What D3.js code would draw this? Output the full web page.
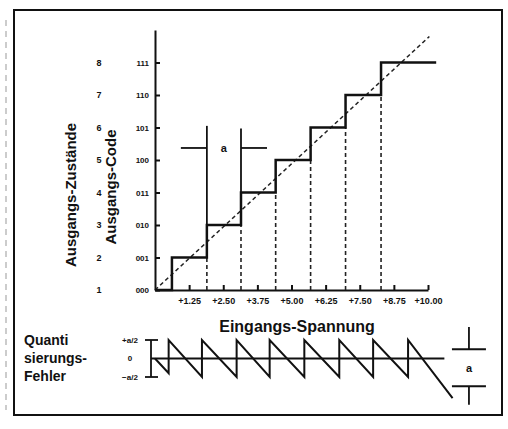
<!DOCTYPE html>
<meta charset="utf-8">
<style>
body { margin: 0; background: #fff; }
svg { display: block; font-family: "Liberation Sans", Arial, sans-serif; }
.axis path, .axis line { stroke: #111; stroke-width: 2px; }
.axis text { fill: #111; font-weight: bold; }
.step { fill: none; stroke: #111; stroke-width: 2.5px; }
.ideal { fill: none; stroke: #222; stroke-width: 1.6px; stroke-dasharray: 4,3; }
.drop { stroke: #222; stroke-width: 1.6px; stroke-dasharray: 4,3; }
.mark { stroke: #111; stroke-width: 1.8px; }
.err { fill: none; stroke: #111; stroke-width: 2px; }
.lbl { fill: #111; font-weight: bold; }
</style>
<svg width="508" height="429"></svg>
<script src="https://d3js.org/d3.v7.min.js"></script>
<script>
// output codes / state numbers, one per quantisation level
var codes = ["000", "001", "010", "011", "100", "101", "110", "111"];
var states = ["1", "2", "3", "4", "5", "6", "7", "8"];
var levels = [0, 1, 2, 3, 4, 5, 6, 7];

// input voltage ticks
var xTicks = [1.25, 2.5, 3.75, 5, 6.25, 7.5, 8.75, 10];
var xTickLabels = ["+1.25", "+2.50", "+3.75", "+5.00", "+6.25", "+7.50", "+8.75", "+10.00"];

// where each code level starts (V); last value = end of the top step
var stepEdges = [0, 0.62, 1.9, 3.15, 4.42, 5.7, 6.98, 8.28, 10.3];

// ideal transfer line (dashed)
var idealX = [0, 10.05];
var idealY = [0, 7.8];

// quantisation error curve, in units of a
var errX = [0, 0.5, 0.5, 1.72, 1.72, 2.99, 2.99, 4.2, 4.2, 5.47, 5.47, 6.75, 6.75, 7.99, 7.99, 9.27, 9.27, 10.9];
var errY = [0, -0.4, 0.5, -0.5, 0.5, -0.5, 0.5, -0.5, 0.5, -0.5, 0.5, -0.5, 0.5, -0.5, 0.5, -0.5, 0.5, -1.07];
var errLabels = ["+a/2", "0", "\u2212a/2"];
var errTicks = [0.5, 0, -0.5];

var svg = d3.select("svg");

var x = d3.scaleLinear().domain([0, 10]).range([155, 428]),
    y = d3.scaleLinear().domain([0, 8]).range([290, 30]),
    e = d3.scaleLinear().domain([-0.5, 0.5]).range([377, 340]);

// frame round the whole figure
svg.append("rect")
    .attr("x", 14).attr("y", 10).attr("width", 488).attr("height", 405)
    .attr("fill", "none").attr("stroke", "#111").attr("stroke-width", 2);
svg.append("line")
    .attr("x1", 6).attr("x2", 6).attr("y1", 20).attr("y2", 410)
    .attr("stroke", "#999").attr("stroke-width", 1).attr("stroke-dasharray", "6,5");

// axes
svg.append("g")
    .attr("class", "axis axis--x")
    .attr("transform", "translate(0," + y(0) + ")")
    .call(d3.axisBottom(x).tickValues(xTicks).tickSizeInner(-5).tickSizeOuter(0).tickPadding(8)
      .tickFormat(function(d, i) { return xTickLabels[i]; }))
    .selectAll("text").style("font-size", "9px");

var yAxis = svg.append("g")
    .attr("class", "axis axis--y")
    .attr("transform", "translate(" + x(0) + ",0)")
    .call(d3.axisLeft(y).tickValues(levels.concat([8])).tickSizeInner(-5).tickSizeOuter(0).tickPadding(6)
      .tickFormat(function(d) { return codes[d] || ""; }));
yAxis.selectAll("text").style("font-size", "8px");
yAxis.selectAll(".tick").filter(function(d) { return d === 8; }).remove();

// state numbers further left
svg.append("g").selectAll("text")
    .data(levels)
  .enter().append("text")
    .attr("class", "lbl")
    .attr("x", 99)
    .attr("y", function(d) { return y(d); })
    .attr("dy", "0.35em")
    .attr("text-anchor", "middle")
    .style("font-size", "9px")
    .text(function(d) { return states[d]; });

// dashed drop lines under each riser
svg.append("g").selectAll("line")
    .data(levels.slice(1))
  .enter().append("line")
    .attr("class", "drop")
    .attr("x1", function(d) { return x(stepEdges[d]); })
    .attr("x2", function(d) { return x(stepEdges[d]); })
    .attr("y1", y(0))
    .attr("y2", function(d) { return y(d - 1); });

// ideal line
svg.append("path")
    .attr("class", "ideal")
    .attr("d", d3.line()(idealX.map(function(v, i) { return [x(v), y(idealY[i])]; })));

// staircase
var stepPts = levels.map(function(l) { return [stepEdges[l], l]; });
stepPts.push([stepEdges[8], 7]);
svg.append("path")
    .attr("class", "step")
    .attr("d", d3.line().curve(d3.curveStepAfter)
      .x(function(d) { return x(d[0]); })
      .y(function(d) { return y(d[1]); })(stepPts));

// width marker "a" between two risers
var mA = stepEdges[2], mB = stepEdges[3], mTop = 5.05, mY = 4.37;
var mg = svg.append("g");
mg.append("line").attr("class", "mark")
    .attr("x1", x(mA)).attr("x2", x(mA)).attr("y1", y(mTop)).attr("y2", y(2));
mg.append("line").attr("class", "mark")
    .attr("x1", x(mB)).attr("x2", x(mB)).attr("y1", y(mTop - 0.08)).attr("y2", y(3));
mg.append("line").attr("class", "mark")
    .attr("x1", x(mA) - 26).attr("x2", x(mA)).attr("y1", y(mY)).attr("y2", y(mY));
mg.append("line").attr("class", "mark")
    .attr("x1", x(mB)).attr("x2", x(mB) + 26).attr("y1", y(mY)).attr("y2", y(mY));
mg.append("text").attr("class", "lbl")
    .attr("x", (x(mA) + x(mB)) / 2).attr("y", y(mY)).attr("dy", "0.35em")
    .attr("text-anchor", "middle").style("font-size", "11px").text("a");

// axis titles
svg.append("text").attr("class", "lbl")
    .attr("transform", "translate(76,195) rotate(-90)")
    .attr("text-anchor", "middle").style("font-size", "15px")
    .text("Ausgangs-Zustände");
svg.append("text").attr("class", "lbl")
    .attr("transform", "translate(116,187) rotate(-90)")
    .attr("text-anchor", "middle").style("font-size", "15px")
    .text("Ausgangs-Code");
svg.append("text").attr("class", "lbl")
    .attr("x", 297).attr("y", 326).attr("dy", "0.35em")
    .attr("text-anchor", "middle").style("font-size", "16px")
    .text("Eingangs-Spannung");

// quantisation error panel
svg.append("g").selectAll("text")
    .data(["Quanti", "sierungs-", "Fehler"])
  .enter().append("text")
    .attr("class", "lbl")
    .attr("x", 24)
    .attr("y", function(d, i) { return 340 + i * 18; })
    .attr("dy", "0.35em")
    .style("font-size", "14px")
    .text(function(d) { return d; });

var eg = svg.append("g");
eg.append("line").attr("class", "mark")
    .attr("x1", 151).attr("x2", 151).attr("y1", e(0.5)).attr("y2", e(-0.5));
eg.selectAll("line.cross")
    .data([0.5, -0.5])
  .enter().append("line")
    .attr("class", "mark cross")
    .attr("x1", 145).attr("x2", 158)
    .attr("y1", function(d) { return e(d); })
    .attr("y2", function(d) { return e(d); });
eg.selectAll("text")
    .data(errTicks)
  .enter().append("text")
    .attr("class", "lbl")
    .attr("x", 130)
    .attr("y", function(d) { return e(d); })
    .attr("dy", "0.35em")
    .attr("text-anchor", "middle")
    .style("font-size", "8px")
    .text(function(d, i) { return errLabels[i]; });
eg.append("line").attr("class", "mark")
    .attr("x1", 151).attr("x2", x(10.6)).attr("y1", e(0)).attr("y2", e(0));
eg.append("path")
    .attr("class", "err")
    .attr("d", d3.line()(errX.map(function(v, i) { return [x(v), e(errY[i])]; })));

// size marker "a" for the error panel
var rx = x(11.5);
eg.append("line").attr("class", "mark")
    .attr("x1", rx - 17).attr("x2", rx + 17).attr("y1", e(0.25)).attr("y2", e(0.25));
eg.append("line").attr("class", "mark")
    .attr("x1", rx).attr("x2", rx).attr("y1", e(0.85)).attr("y2", e(0.25));
eg.append("line").attr("class", "mark")
    .attr("x1", rx - 17).attr("x2", rx + 17).attr("y1", e(-0.75)).attr("y2", e(-0.75));
eg.append("line").attr("class", "mark")
    .attr("x1", rx).attr("x2", rx).attr("y1", e(-0.75)).attr("y2", e(-1.25));
eg.append("text").attr("class", "lbl")
    .attr("x", rx).attr("y", e(-0.25)).attr("dy", "0.35em")
    .attr("text-anchor", "middle").style("font-size", "11px").text("a");
</script>
